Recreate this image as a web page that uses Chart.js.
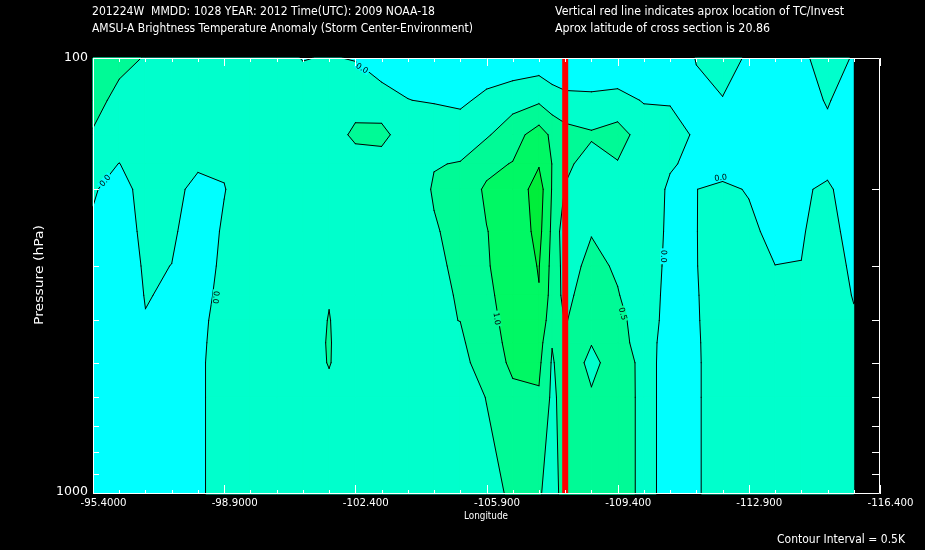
<!DOCTYPE html>
<html><head><meta charset="utf-8">
<script src="https://cdn.jsdelivr.net/npm/chart.js"></script>
<style>html,body{margin:0;padding:0;background:#000;}canvas{display:block;}</style>
</head><body>
<canvas id="c" width="925" height="550"></canvas>
<script>
// ---- data: longitude columns and pressure rows of the cross section ----
const longitudes = [-95.4,-96.1,-96.8,-97.5,-98.2,-98.9,-99.6,-100.3,-101.0,-101.7,-102.4,-103.1,-103.8,-104.5,-105.2,-105.9,-106.6,-107.3,-107.65,-108.0,-108.7,-109.4,-110.1,-110.8,-111.5,-112.2,-112.9,-113.6,-114.3,-115.0,-115.7];
const pressureLevels = [100,125,150,175,200,250,300,350,400,450,500,600,1000];
// brightness temperature anomaly (K), one array per pressure level
const anom100  = [0.8,0.6,0.48,0.4,0.35,0.3,0.25,0.15,-0.02,0.03,-0.03,-0.4,-0.24,-0.3,-0.4,-0.5,-0.35,-0.3,-0.35,-0.4,-0.4,-0.4,-0.3,-0.3,0.02,0.3,-0.1,-0.2,-0.14,0.3,-0.053];
const anom125  = [0.62,0.4,0.42,0.38,0.33,0.3,0.28,0.25,0.25,0.3,0.35,0.3,0.01,-0.05,-0.14,0.178,0.3,0.42,0.21,0.12,0.1,0.15,-0.03,-0.05,-0.1,-0.03,-0.2,-0.3,-0.26,0.05,-0.33];
const anom150  = [0.47,0.3,0.38,0.35,0.3,0.28,0.3,0.3,0.3,0.3,0.58,0.6,0.3,0.45,0.4,0.44,0.8,1.225,0.9,0.69,0.56,0.71,0.263,0.25,-0.083,-0.3,-0.3,-0.3,-0.3,-0.15,-0.3];
const anom175  = [0.2,-0.01,0.25,0.3,0.1,0.06,0.32,0.32,0.33,0.33,0.32,0.35,0.35,0.49,0.51,0.9,1.02,1.46,0.99,0.6,0.3,0.469,0.35,0.06,-0.15,-0.45,-0.3,-0.3,-0.3,-0.18,-0.3];
const anom200  = [0.1,-0.4,0.384,0.21,-0.2,-0.02,0.3,0.32,0.33,0.35,0.3,0.3,0.35,0.522,0.787,1.05,1.14,1.75,0.97,0.47,0.3,0.4,0.4,-0.1,-0.01,0.2,-0.07,-0.3,-0.08,0.1,-0.355];
const anom250  = [-0.15,-0.4,0.188,0.09,-0.3,0.066,0.28,0.3,0.32,0.38,0.3,0.3,0.33,0.478,0.574,0.99,1.15,1.65,0.9,0.2,0.476,0.4,0.3,-0.1,-0.01,0.24,0.235,-0.3,-0.05,0.26,-0.27];
const anom300  = [-0.2,-0.4,0.082,-0.007,-0.3,0.129,0.27,0.3,0.33,0.42,0.3,0.3,0.33,0.45,0.55,0.955,1.275,1.52,0.85,0.3,0.628,0.44,0.25,-0.112,-0.012,0.228,0.3,0.01,0.01,0.3,-0.117];
const anom350  = [-0.2,-0.4,0.028,-0.069,-0.3,0.236,0.27,0.3,0.35,0.48,0.28,0.3,0.35,0.45,0.518,0.91,1.2,1.484,0.8,0.35,0.805,0.526,0.2,-0.117,-0.025,0.225,0.3,0.2,0.2,0.3,-0.03];
const anom400  = [-0.2,-0.3,-0.024,-0.15,-0.15,0.216,0.28,0.32,0.3,0.515,0.25,0.3,0.35,0.45,0.505,0.872,1.15,1.3,0.75,0.48,0.7,0.64,0.25,-0.177,-0.03,0.2,0.3,0.25,0.25,0.3,0.058];
const anom450  = [-0.2,-0.3,-0.1,-0.15,-0.12,0.233,0.28,0.33,0.3,0.53,0.2,0.3,0.3,0.4,0.4125,0.85,1.1,1.2,0.52,0.6,0.515,0.67,0.3,-0.3,-0.04,0.2,0.3,0.25,0.25,0.3,0.15];
const anom500  = [-0.2,-0.3,-0.1,-0.15,-0.1,0.245,0.3,0.32,0.3,0.52,0.25,0.3,0.28,0.3,0.28,0.85,1.05,1.1,0.45,0.757,0.4,0.694,0.4,-0.433,-0.045,0.2,0.3,0.25,0.25,0.3,0.2];
const anom600  = [-0.2,-0.3,-0.1,-0.15,-0.1,0.245,0.3,0.3,0.3,0.4,0.3,0.3,0.25,0.25,0.196,0.516,0.94,0.95,0.4,0.7,0.543,0.703,0.4,-0.433,-0.045,0.2,0.3,0.25,0.25,0.3,0.2];
const anom1000 = [-0.2,-0.3,-0.1,-0.15,-0.1,0.245,0.3,0.3,0.3,0.35,0.3,0.3,0.25,0.25,0.2,0.2875,0.6,0.55,0.3,0.7,0.6,0.703,0.4,-0.433,-0.045,0.2,0.3,0.25,0.25,0.3,0.2];
const contourLevels = [0, 0.5, 1.0, 1.5];
// storm (TC) position marker
const stormLon = [-108.0, -108.0];
const stormP = [100, 1000];
// axis ticks
const xMajorTicks = [-95.4,-98.9,-102.4,-105.9,-109.4,-112.9,-116.4];
const xTickLabels = ['-95.4000','-98.9000','-102.400','-105.900','-109.400','-112.900','-116.400'];
const xMinorTicks = [-96.1,-96.8,-97.5,-98.2,-99.6,-100.3,-101.0,-101.7,-103.1,-103.8,-104.5,-105.2,-106.6,-107.3,-108.0,-108.7,-110.1,-110.8,-111.5,-112.2,-113.6,-114.3,-115.0,-115.7];
const yLabelTicks = [100, 1000];
const yTickLabels = ['100', '1000'];
const yMinorTicks = [200,300,400,500,600,700,800,900];
// contour labels placed along lines (lon, pressure, text, angle in degrees)
const contourLabels = [
  {lon:-95.72, p:191, text:'0.0', angle:-50},
  {lon:-98.68, p:354, text:'0.0', angle:95},
  {lon:-102.58, p:105.5, text:'0.0', angle:32},
  {lon:-106.18, p:396, text:'1.0', angle:82},
  {lon:-109.54, p:386, text:'0.5', angle:74},
  {lon:-110.63, p:285, text:'0.0', angle:92},
  {lon:-112.15, p:188, text:'0.0', angle:-8}
];
const titleLine1 = '201224W  MMDD: 1028 YEAR: 2012 Time(UTC): 2009 NOAA-18';
const titleLine2 = 'AMSU-A Brightness Temperature Anomaly (Storm Center-Environment)';
const noteLine1 = 'Vertical red line indicates aprox location of TC/Invest';
const noteLine2 = 'Aprox latitude of cross section is 20.86';
const xTitle = 'Longitude';
const yTitle = 'Pressure (hPa)';
const intervalNote = 'Contour Interval = 0.5K';

const grid = [anom100, anom125, anom150, anom175, anom200, anom250, anom300, anom350, anom400, anom450, anom500, anom600, anom1000];
const bandColors = ['#00FFFF', '#00FFCC', '#00FA96', '#00F864', '#00EE3A'];
const FONT = '"DejaVu Sans", "Liberation Sans", sans-serif';

function clipPoly(pts, L) {
  const out = [];
  for (let k = 0; k < pts.length; k++) {
    const a = pts[k], b = pts[(k + 1) % pts.length];
    const ain = a[2] >= L, bin = b[2] >= L;
    if (ain) out.push(a);
    if (ain !== bin) {
      const t = (L - a[2]) / (b[2] - a[2]);
      out.push([a[0] + t * (b[0] - a[0]), a[1] + t * (b[1] - a[1]), L]);
    }
  }
  return out;
}
function cellSegments(pts, L) {
  const cr = [];
  for (let k = 0; k < pts.length; k++) {
    const a = pts[k], b = pts[(k + 1) % pts.length];
    const ain = a[2] >= L, bin = b[2] >= L;
    if (ain !== bin) {
      const t = (L - a[2]) / (b[2] - a[2]);
      cr.push({p: [a[0] + t * (b[0] - a[0]), a[1] + t * (b[1] - a[1])], exit: ain});
    }
  }
  const segs = [];
  for (let k = 0; k < cr.length; k++) if (cr[k].exit) segs.push([cr[k].p, cr[(k + 1) % cr.length].p]);
  return segs;
}
function fieldAt(lon, p) {
  let i = 0; while (i < longitudes.length - 2 && lon < longitudes[i + 1]) i++;
  let j = 0; while (j < pressureLevels.length - 2 && p > pressureLevels[j + 1]) j++;
  const fx = Math.min(1, Math.max(0, (lon - longitudes[i]) / (longitudes[i + 1] - longitudes[i])));
  const fy = Math.min(1, Math.max(0, (Math.log(p) - Math.log(pressureLevels[j])) / (Math.log(pressureLevels[j + 1]) - Math.log(pressureLevels[j]))));
  const a = grid[j][i], b = grid[j][i + 1], c = grid[j + 1][i], d = grid[j + 1][i + 1];
  return (a * (1 - fx) + b * fx) * (1 - fy) + (c * (1 - fx) + d * fx) * fy;
}
function bandOf(v) { let k = 0; contourLevels.forEach(L => { if (v >= L) k++; }); return k; }

function fitText(ctx, str, x, y, w, size, rot) {
  ctx.save();
  ctx.font = size + 'px ' + FONT;
  const m = ctx.measureText(str).width;
  ctx.translate(x, y);
  if (rot) ctx.rotate(rot);
  ctx.scale(w / m, 1);
  ctx.textBaseline = 'middle'; ctx.textAlign = 'left';
  ctx.fillStyle = '#ffffff';
  ctx.fillText(str, 0, 0);
  ctx.restore();
}

const fieldPlugin = {
  id: 'field',
  beforeDraw(chart) {
    const ctx = chart.ctx;
    ctx.save(); ctx.fillStyle = '#000'; ctx.fillRect(0, 0, chart.width, chart.height); ctx.restore();
  },
  beforeDatasetsDraw(chart) {
    const ctx = chart.ctx, xs = chart.scales.x, ys = chart.scales.y;
    const X = longitudes.map(v => xs.getPixelForValue(v));
    const Y = pressureLevels.map(v => ys.getPixelForValue(v));
    const nx = X.length, ny = Y.length;
    ctx.save();
    ctx.fillStyle = bandColors[0];
    ctx.fillRect(X[0], Y[0], X[nx - 1] - X[0], Y[ny - 1] - Y[0]);
    ctx.lineJoin = 'round';
    contourLevels.forEach((L, k) => {
      ctx.fillStyle = bandColors[k + 1]; ctx.strokeStyle = bandColors[k + 1]; ctx.lineWidth = 0.8;
      for (let j = 0; j < ny - 1; j++) for (let i = 0; i < nx - 1; i++) {
        const pts = [[X[i], Y[j], grid[j][i]], [X[i + 1], Y[j], grid[j][i + 1]], [X[i + 1], Y[j + 1], grid[j + 1][i + 1]], [X[i], Y[j + 1], grid[j + 1][i]]];
        const poly = clipPoly(pts, L);
        if (poly.length < 3) continue;
        ctx.beginPath();
        poly.forEach((p, n) => n ? ctx.lineTo(p[0], p[1]) : ctx.moveTo(p[0], p[1]));
        ctx.closePath(); ctx.fill(); ctx.stroke();
      }
    });
    ctx.strokeStyle = '#000'; ctx.lineWidth = 1; ctx.lineCap = 'round';
    contourLevels.forEach(L => {
      ctx.beginPath();
      for (let j = 0; j < ny - 1; j++) for (let i = 0; i < nx - 1; i++) {
        const pts = [[X[i], Y[j], grid[j][i]], [X[i + 1], Y[j], grid[j][i + 1]], [X[i + 1], Y[j + 1], grid[j + 1][i + 1]], [X[i], Y[j + 1], grid[j + 1][i]]];
        cellSegments(pts, L).forEach(s => { ctx.moveTo(s[0][0], s[0][1]); ctx.lineTo(s[1][0], s[1][1]); });
      }
      ctx.stroke();
    });
    // contour labels
    contourLabels.forEach(lb => {
      const px = xs.getPixelForValue(lb.lon), py = ys.getPixelForValue(lb.p);
      ctx.save();
      ctx.translate(px, py); ctx.rotate(lb.angle * Math.PI / 180);
      ctx.font = '8px ' + FONT;
      const w = ctx.measureText(lb.text).width;
      ctx.fillStyle = bandColors[bandOf(fieldAt(lb.lon, lb.p))];
      ctx.fillRect(-w / 2 - 1.5, -3.5, w + 3, 7);
      ctx.fillStyle = '#000'; ctx.textAlign = 'center'; ctx.textBaseline = 'middle';
      ctx.fillText(lb.text, 0, 0.5);
      ctx.restore();
    });
    ctx.restore();
  }
};

const framePlugin = {
  id: 'frame',
  afterDatasetsDraw(chart) {
    const ctx = chart.ctx, xs = chart.scales.x, ys = chart.scales.y, a = chart.chartArea;
    const L = a.left, R = a.right, T = a.top, B = a.bottom;
    ctx.save();
    ctx.strokeStyle = '#ffffff'; ctx.lineWidth = 1;
    ctx.beginPath();
    ctx.moveTo(L + 0.5, T + 0.5); ctx.lineTo(R - 0.5, T + 0.5); ctx.lineTo(R - 0.5, B - 0.5); ctx.lineTo(L + 0.5, B - 0.5); ctx.closePath();
    xMinorTicks.forEach(v => { const x = Math.round(xs.getPixelForValue(v)) + 0.5; ctx.moveTo(x, B); ctx.lineTo(x, B - 4); ctx.moveTo(x, T); ctx.lineTo(x, T + 4); });
    xMajorTicks.forEach(v => { const x = Math.round(xs.getPixelForValue(v)) + 0.5; ctx.moveTo(x, B); ctx.lineTo(x, B - 9); ctx.moveTo(x, T); ctx.lineTo(x, T + 8); });
    yMinorTicks.forEach(v => { const y = Math.round(ys.getPixelForValue(v)) + 0.5; ctx.moveTo(L, y); ctx.lineTo(L + 6, y); ctx.moveTo(R, y); ctx.lineTo(R - 8, y); });
    ctx.stroke();
    // tick labels
    xMajorTicks.forEach((v, k) => { const x = xs.getPixelForValue(v); fitText(ctx, xTickLabels[k], x - 12.5, 503, 46, 11); });
    yLabelTicks.forEach((v, k) => { const y = ys.getPixelForValue(v); const w = yTickLabels[k].length * 8; fitText(ctx, yTickLabels[k], 88 - w, Math.min(y, 492), w, 13); });
    // titles
    fitText(ctx, titleLine1, 92, 12, 343, 12);
    fitText(ctx, titleLine2, 92, 29, 381, 12);
    fitText(ctx, noteLine1, 555, 12, 289, 12);
    fitText(ctx, noteLine2, 555, 29, 215, 12);
    fitText(ctx, xTitle, 464, 516, 44, 10);
    fitText(ctx, intervalNote, 777, 540, 128, 11.5);
    fitText(ctx, yTitle, 40, 325, 100, 12.5, -Math.PI / 2);
    ctx.restore();
  }
};

new Chart(document.getElementById('c'), {
  type: 'line',
  data: { datasets: [{ label: 'TC location', data: stormLon.map((x, i) => ({x: x, y: stormP[i]})), borderColor: '#FF0000', backgroundColor: '#FF0000', borderWidth: 6, pointRadius: 0, fill: false, tension: 0 }] },
  options: {
    responsive: false, animation: false, devicePixelRatio: 1, events: [],
    layout: { padding: { left: 93, right: 45, top: 58, bottom: 56 } },
    scales: {
      x: { type: 'linear', min: -116.4, max: -95.4, reverse: true, display: false, bounds: 'data' },
      y: { type: 'logarithmic', min: 100, max: 1000, reverse: true, display: false }
    },
    plugins: { legend: { display: false }, tooltip: { enabled: false } }
  },
  plugins: [fieldPlugin, framePlugin]
});
</script>
</body></html>
